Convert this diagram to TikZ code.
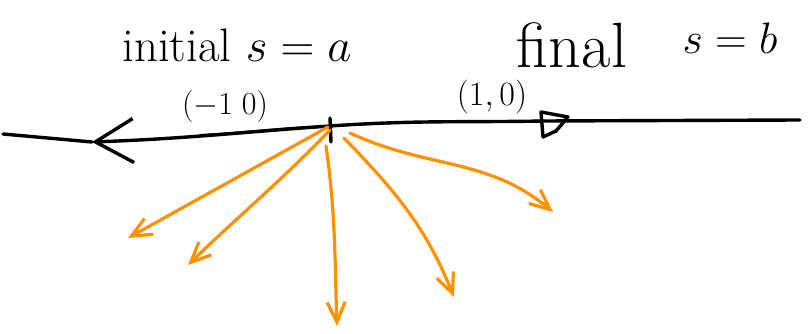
\RequirePackage{fix-cm}
\documentclass[tikz,border=0pt]{standalone}
\usepackage{xcolor}
\usepackage{amsmath,amssymb}
\usepackage{tikz}
\usetikzlibrary{arrows.meta,calc}
\definecolor{pen}{RGB}{255,145,0}

\begin{document}
\begin{tikzpicture}[x=1pt,y=1pt,line join=round,line cap=round,
  ink/.style={line width=3.4pt,black},
  ray/.style={line width=3.2pt,pen,-{Straight Barb[length=20pt,width=18pt]}},
  lbl/.style={inner sep=0pt,font=\fontsize{47}{50}\selectfont}]
  \useasboundingbox (0,0) rectangle (809,334);
  % axis through the initial point
  \coordinate (L) at (3,200);\coordinate (A) at (92,192);\coordinate (O) at (330,208);
  \coordinate (B) at (545,213);\coordinate (R) at (800,214);
  \draw[ink] (L)--(A);
  \draw[ink,{Straight Barb[length=38pt,width=44pt]}-] (A) to[out=2,in=184] (O) to[out=4,in=181] (B)--(R);
  \draw[ink,line width=2pt] (200,199) to[out=3,in=182] (O) to[out=3,in=180] (B);
  \coordinate (O1) at (330,216);\coordinate (O2) at (331,192);
  \draw[ink] (O1)--(O2);
  % end marker
  \coordinate (F1) at (541,222);\coordinate (F2) at (568,217);\coordinate (F3) at (556,203);\coordinate (F4) at (543,197);
  \draw[ink] (F1)--(F2)--(F3)--(F4)--cycle;
  % directions out of the initial point
  \coordinate (S1) at (328,207);\coordinate (S2) at (330,204);\coordinate (S3) at (326,188);
  \coordinate (S4) at (344,196);\coordinate (S5) at (350,201);
  \coordinate (T1) at (128,96);\coordinate (T2) at (188,69);\coordinate (T3) at (337,8);
  \coordinate (T4) at (454,37);\coordinate (T5) at (553,122);
  \foreach \i/\a/\b in {1/209/29,2/226/44,3/-82/92,4/-46/112,5/-25/140}{\draw[ray] (S\i) to[out=\a,in=\b] (T\i);}
  % labels
  \node[lbl] (init) at (237,289) {initial $s=a$};
  \node[lbl,font=\fontsize{64}{68}\selectfont] (fnl) at (572,289) {final};
  \node[lbl,font=\fontsize{44}{48}\selectfont] (sb) at (730,296) {$s=b$};
  \node[lbl,font=\fontsize{32}{36}\selectfont] (m10) at (225,227) {$(-1\;0)$};
  \node[lbl,font=\fontsize{34}{38}\selectfont] (p10) at (492,237) {$(1,0)$};
\end{tikzpicture}
\end{document}
